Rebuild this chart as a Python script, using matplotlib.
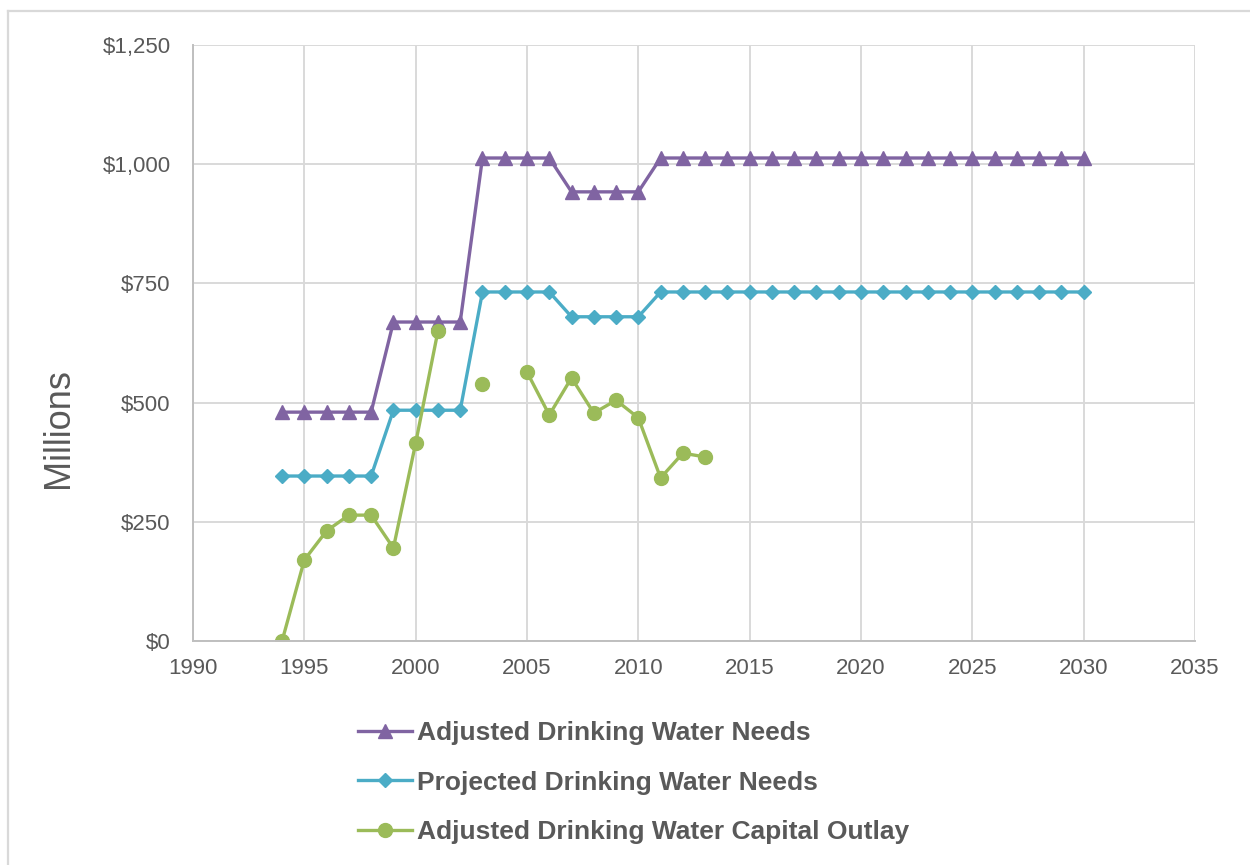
import numpy as np
import matplotlib.pyplot as plt
from matplotlib.lines import Line2D

plt.rcParams['font.family'] = ['Liberation Sans', 'DejaVu Sans']

years = list(range(1994, 2031))
adjusted_needs = [480] * 5 + [669] * 4 + [1013] * 4 + [942] * 4 + [1013] * 20
projected_needs = [346] * 5 + [484] * 4 + [732] * 4 + [680] * 4 + [732] * 20

outlay_years = list(range(1994, 2014))
# None marks years with no data (gaps in the line)
capital_outlay = [0, 170, 231, 264, 264, 195, 415, 650, None, 539,
                  None, 564, 474, 552, 478, 505, 468, 342, 394, 386]

purple = '#8064A2'
blue = '#4BACC6'
green = '#9BBB59'
grey_text = '#595959'

W, H = 1250, 865
fig = plt.figure(figsize=(W / 100, H / 100), dpi=100)
ax = fig.add_axes([193 / W, 1 - 641 / H, (1195 - 193) / W, (641 - 45) / H])

ax.plot(years, adjusted_needs, color=purple, lw=2.4, marker='^', ms=9.5,
        label='Adjusted Drinking Water Needs')
ax.plot(years, projected_needs, color=blue, lw=2.4, marker='D', ms=7.5,
        label='Projected Drinking Water Needs')
outlay = np.array([np.nan if v is None else v for v in capital_outlay], dtype=float)
ax.plot(outlay_years, outlay, color=green, lw=2.4, marker='o', ms=10,
        label='Adjusted Drinking Water Capital Outlay')

ax.set_xlim(1990, 2035)
ax.set_ylim(0, 1250)
ax.set_xticks(range(1990, 2036, 5))
ax.set_yticks(range(0, 1251, 250))
ax.set_yticklabels(['${:,}'.format(v) for v in range(0, 1251, 250)])
ax.tick_params(length=0, labelsize=16, colors=grey_text)
ax.tick_params(axis='y', pad=16)
ax.tick_params(axis='x', pad=12)
ax.grid(True, color='#D9D9D9', lw=1.4)
ax.set_axisbelow(True)
for s in ['top', 'right']:
    ax.spines[s].set_visible(False)
for s in ['left', 'bottom']:
    ax.spines[s].set_color('#BFBFBF')
    ax.spines[s].set_linewidth(1.4)
ax.set_ylabel('Millions', fontsize=26, color=grey_text)
ax.yaxis.set_label_coords(-0.117, 0.357)

leg = fig.legend(loc='upper left', bbox_to_anchor=(334 / W, 1 - 697 / H),
                 frameon=False, handlelength=2.05, handletextpad=0.2,
                 labelspacing=0.98, prop={'weight': 'bold', 'size': 19})
for t in leg.get_texts():
    t.set_color(grey_text)

# outer chart border (left and top edges only are visible)
fig.add_artist(Line2D([7.5 / W, 7.5 / W], [0, 1 - 10.5 / H], transform=fig.transFigure,
                      color='#D9D9D9', lw=1.6))
fig.add_artist(Line2D([7.5 / W, 1], [1 - 10.5 / H, 1 - 10.5 / H], transform=fig.transFigure,
                      color='#D9D9D9', lw=1.6))

fig.savefig('out.png', dpi=100)
